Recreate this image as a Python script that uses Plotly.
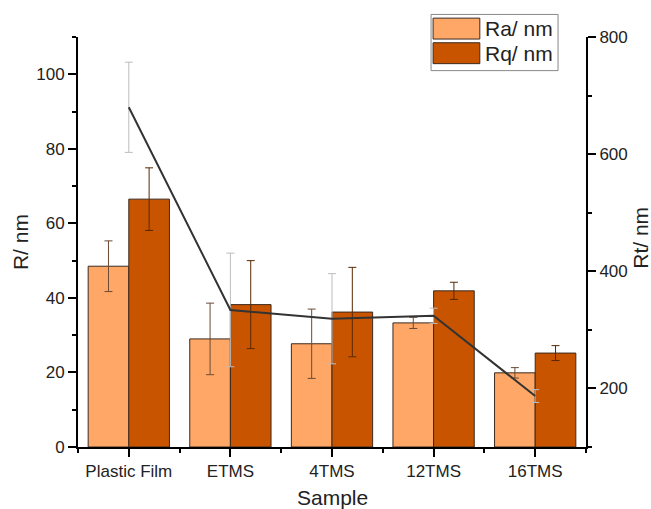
import plotly.graph_objects as go

categories = ["Plastic Film", "ETMS", "4TMS", "12TMS", "16TMS"]
ra = [48.5, 29.0, 27.7, 33.3, 19.9]
ra_err = [6.8, 9.6, 9.3, 1.5, 1.4]
rq = [66.5, 38.2, 36.2, 41.9, 25.2]
rq_err = [8.4, 11.8, 12.0, 2.3, 2.0]
rt = [680, 334, 319, 324, 187]
rt_err = [77, 97, 77, 13, 11]

xpos = list(range(len(categories)))

FONT = "Liberation Sans, Arial, sans-serif"
RA_COLOR = "#FFA766"
RQ_COLOR = "#C85400"

fig = go.Figure()
fig.add_trace(go.Bar(
    x=xpos, y=ra, name="Ra/ nm", offsetgroup="a",
    marker=dict(color=RA_COLOR, line=dict(color="#3c2a1e", width=1)),
    error_y=dict(type="data", array=ra_err, color="#6b4a35", thickness=1, width=4),
    showlegend=False,
))
fig.add_trace(go.Bar(
    x=xpos, y=rq, name="Rq/ nm", offsetgroup="b",
    marker=dict(color=RQ_COLOR, line=dict(color="#3c2a1e", width=1)),
    error_y=dict(type="data", array=rq_err, color="#5a2800", thickness=1, width=4),
    showlegend=False,
))
fig.add_trace(go.Scatter(
    x=xpos, y=rt, name="Rt/ nm", yaxis="y2", mode="lines",
    line=dict(color="#333333", width=2),
    error_y=dict(type="data", array=rt_err, color="#bdbdbd", thickness=1, width=4),
    showlegend=False,
))

axis_common = dict(
    showline=True, linecolor="black", linewidth=2,
    ticks="outside", ticklen=8, tickwidth=2, tickcolor="black",
    showgrid=False, zeroline=False, automargin=False,
    tickfont=dict(family=FONT, size=17, color="#222"),
)
minor_common = dict(ticks="outside", ticklen=4, tickwidth=2, tickcolor="black")

fig.update_layout(
    width=651, height=509,
    margin=dict(l=78, r=65, t=37, b=62),
    paper_bgcolor="white", plot_bgcolor="white",
    barmode="group", bargap=0.2, bargroupgap=0,
    font=dict(family=FONT, color="#222"),
    xaxis=dict(
        **axis_common,
        range=[-0.5, 4.5], tickmode="array", tickvals=xpos, ticktext=categories,
        minor=dict(**minor_common, tick0=0.5, dtick=1),
    ),
    yaxis=dict(
        **axis_common,
        range=[0, 110], dtick=20, tick0=0,
        minor=dict(**minor_common, tick0=10, dtick=20),
    ),
    yaxis2=dict(
        **axis_common,
        overlaying="y", side="right", anchor="x",
        range=[100, 800], dtick=200, tick0=0,
        minor=dict(**minor_common, tick0=100, dtick=200),
    ),
)

title_font = dict(family=FONT, size=21, color="#222")
fig.add_annotation(xref="paper", yref="paper", x=-0.114, y=0.50, text="R/ nm",
                   textangle=-90, showarrow=False, font=title_font,
                   xanchor="center", yanchor="middle")
fig.add_annotation(xref="paper", yref="paper", x=1.108, y=0.51, text="Rt/ nm",
                   textangle=-90, showarrow=False, font=title_font,
                   xanchor="center", yanchor="middle")
fig.add_annotation(xref="paper", yref="paper", x=0.5, y=-0.124, text="Sample",
                   showarrow=False, font=title_font,
                   xanchor="center", yanchor="middle")

# custom legend (large swatches like the original)
legend_items = [("Ra/ nm", RA_COLOR), ("Rq/ nm", RQ_COLOR)]
fig.add_shape(type="rect", xref="paper", yref="paper",
              x0=0.695, x1=0.945, y0=0.918, y1=1.055,
              line=dict(color="#888888", width=1), fillcolor="white", layer="above")
row_tops = [1.046, 0.986]
row_h = 0.051
for (label, color), top in zip(legend_items, row_tops):
    fig.add_shape(type="rect", xref="paper", yref="paper",
                  x0=0.699, x1=0.791, y0=top - row_h, y1=top,
                  line=dict(color="#3c2a1e", width=1), fillcolor=color, layer="above")
    fig.add_annotation(xref="paper", yref="paper", x=0.797, y=top - row_h / 2,
                       text=label, showarrow=False, xanchor="left", yanchor="middle",
                       font=dict(family=FONT, size=21, color="#222"))

fig.write_html("out.html")
